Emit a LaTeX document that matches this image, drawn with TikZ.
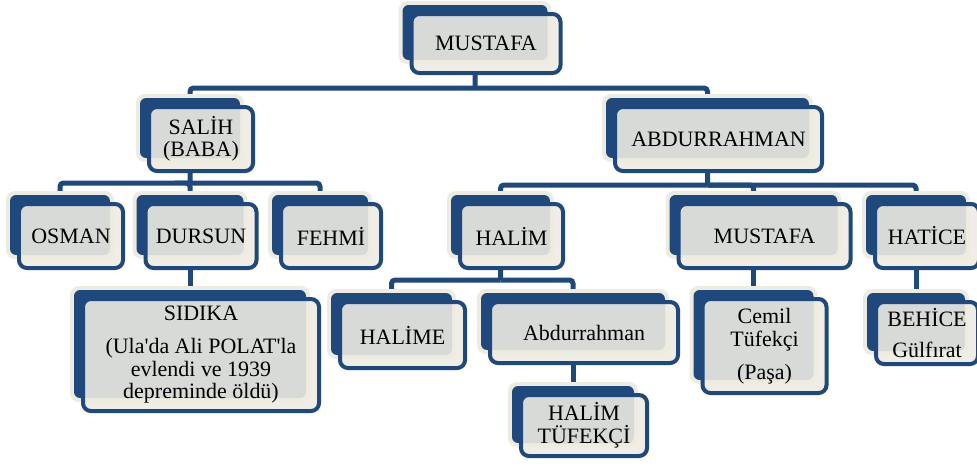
\documentclass[tikz,border=0pt]{standalone}
\usepackage{fontspec}
\setmainfont{Liberation Serif}[Ligatures=TeXOff]
\definecolor{navy}{RGB}{31,73,125}
\definecolor{cream}{RGB}{238,236,225}
\pgfdeclarelayer{links}
\pgfdeclarelayer{backs}
\pgfsetlayers{links,backs,main}
\tikzset{
  member/.style={draw=navy, line width=0.08cm, fill=cream, fill opacity=0.89, text opacity=1,
    rounded corners=4.5pt, inner sep=0pt, outer sep=0pt, align=center,
    font=\fontsize{12.5}{12.8}\selectfont},
  boxsize/.style 2 args={minimum width=#1*0.02cm, minimum height=#2*0.02cm},
  link/.style={draw=navy, line width=0.1cm, rounded corners=2pt},
}

\begin{document}
\begin{tikzpicture}[x=0.02cm, y=-0.02cm]
  \useasboundingbox (0,0) rectangle (977,467);

  \node[member, boxsize={149}{59}] (mustafa) at (486,43.5) {MUSTAFA};
  \node[member, boxsize={104}{64}] (salih) at (201,139) {SALİH\\(BABA)};
  \node[member, boxsize={207}{64}] (abdur) at (718.5,139) {ABDURRAHMAN};

  \node[member, boxsize={104}{64}] (osman) at (71,236) {OSMAN};
  \node[member, boxsize={111}{64}] (dursun) at (201,236) {DURSUN};
  \node[member, boxsize={100}{64}] (fehmi) at (331,236) {FEHMİ};
  \node[member, boxsize={103}{64}] (halim) at (511.5,236) {HALİM};
  \node[member, boxsize={172}{64}] (mustafab) at (764.5,236) {MUSTAFA};
  \node[member, boxsize={104}{64}] (hatice) at (927,236) {HATİCE};

  \node[member, boxsize={236}{112}] (sidika) at (201,355)
    {SIDIKA\\[6pt](Ula'da Ali POLAT'la\\evlendi ve 1939\\depreminde öldü)};
  \node[member, boxsize={125}{66}] (halime) at (402.5,335) {HALİME};
  \node[member, boxsize={188}{61}] (abdurb) at (584,332.5) {Abdurrahman};
  \node[member, boxsize={126}{61}] (halimt) at (584,425.5) {HALİM\\TÜFEKÇİ};
  \node[member, boxsize={124}{94}] (cemil) at (764.5,346) {Cemil\\Tüfekçi\\[6pt](Paşa)};
  \node[member, boxsize={102}{62}] (behice) at (927,333) {BEHİCE\\[5pt]Gülfırat};

  \begin{pgfonlayer}{backs}
    \foreach \n in {mustafa,salih,abdur,osman,dursun,fehmi,halim,mustafab,hatice,
                    sidika,halime,abdurb,halimt,cemil,behice} {
      \fill[cream, rounded corners=5pt]
        ([shift={(-13,-13)}]\n.north west) rectangle ([shift={(-9,-9)}]\n.south east);
      \fill[navy, rounded corners=3.5pt]
        ([shift={(-9,-9)}]\n.north west) rectangle ([shift={(-13,-13)}]\n.south east);
    }
  \end{pgfonlayer}

  \begin{pgfonlayer}{links}
    \coordinate (topjoin) at (475,88);
    \coordinate (salihjoin) at (190,183);
    \coordinate (abdurjoin) at (707.5,185);
    \coordinate (halimjoin) at (500.5,280);

    \draw[link] ([xshift=-.22cm]mustafa.south) -- (topjoin);
    \foreach \c in {salih,abdur}
      \draw[link] ([xshift=-.22cm]\c.north) |- (topjoin);

    \draw[link] ([xshift=-.22cm]salih.south) -- (salihjoin);
    \foreach \c in {osman,dursun,fehmi}
      \draw[link] ([xshift=-.22cm]\c.north) |- (salihjoin);

    \draw[link] ([xshift=-.22cm]abdur.south) -- (abdurjoin);
    \foreach \c in {halim,mustafab,hatice}
      \draw[link] ([xshift=-.22cm]\c.north) |- (abdurjoin);

    \draw[link] ([xshift=-.22cm]halim.south) -- (halimjoin);
    \foreach \c in {halime,abdurb}
      \draw[link] ([xshift=-.22cm]\c.north) |- (halimjoin);

    \draw[link] ([xshift=-.22cm]dursun.south) -- ([xshift=-.22cm]sidika.north);
    \draw[link] ([xshift=-.22cm]abdurb.south) -- ([xshift=-.22cm]halimt.north);
    \draw[link] ([xshift=-.22cm]mustafab.south) -- ([xshift=-.22cm]cemil.north);
    \draw[link] ([xshift=-.22cm]hatice.south) -- ([xshift=-.22cm]behice.north);
  \end{pgfonlayer}
\end{tikzpicture}
\end{document}
